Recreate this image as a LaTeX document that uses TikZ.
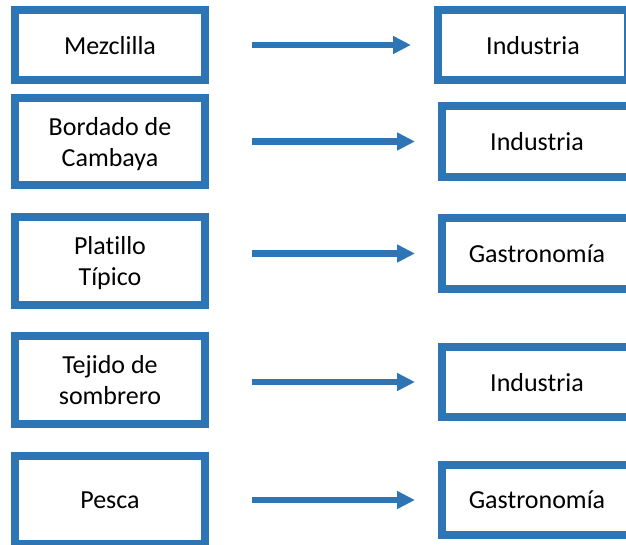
\documentclass[tikz,border=0pt]{standalone}
\usepackage{fontspec}
\setmainfont{Carlito}[Ligatures=NoCommon]
\usetikzlibrary{arrows.meta}
\definecolor{azul}{RGB}{46,117,182}
\begin{document}
\begin{tikzpicture}[x=1pt,y=-1pt,
  caja/.style={draw=azul,line width=8pt,align=center,minimum width=190pt,
    inner sep=0pt,text depth=0pt,font=\fontsize{26}{31}\selectfont},
  flecha/.style={-{Triangle[length=18pt,width=17pt]},draw=azul,line width=6.5pt,
    shorten <=43pt,shorten >=23pt}]
\clip (0,0) rectangle (626,544);
% izquierda
\node[caja,minimum height=70pt] (mezclilla) at (110,45) {Mezclilla};
\node[caja,minimum height=87pt] (bordado) at (110,141.5) {Bordado de\\Cambaya};
\node[caja,minimum height=88pt] (platillo) at (110,261) {Platillo\\Típico};
\node[caja,minimum height=88pt] (tejido) at (110,380) {Tejido de\\sombrero};
\node[caja,minimum height=88pt] (pesca) at (110,500) {Pesca};
% derecha
\node[caja,minimum height=70pt] (ind1) at (533,45) {Industria};
\node[caja,minimum height=71pt] (ind2) at (537,141.5) {Industria};
\node[caja,minimum height=71pt] (gas1) at (537,253.5) {Gastronomía};
\node[caja,minimum height=70pt] (ind3) at (537,382) {Industria};
\node[caja,minimum height=70pt] (gas2) at (537,500) {Gastronomía};
% flechas
\draw[flecha] (mezclilla.east |- ind1.west) -- (ind1.west);
\draw[flecha] (bordado.east |- ind2.west) -- (ind2.west);
\draw[flecha] (platillo.east |- gas1.west) -- (gas1.west);
\draw[flecha] (tejido.east |- ind3.west) -- (ind3.west);
\draw[flecha] (pesca.east |- gas2.west) -- (gas2.west);
\end{tikzpicture}
\end{document}
